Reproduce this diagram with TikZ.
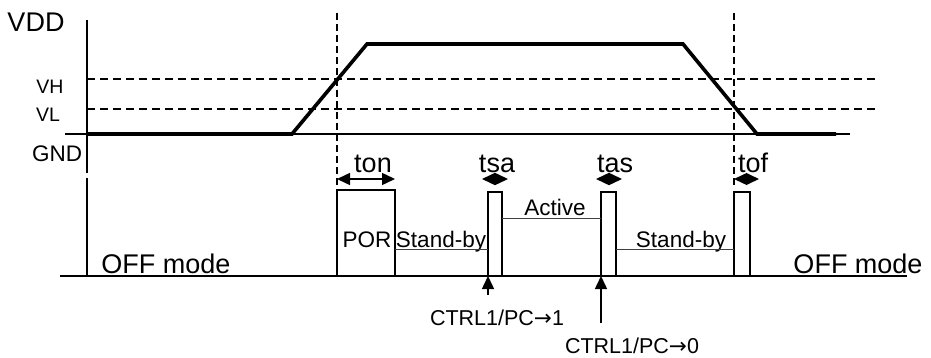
\documentclass[tikz,border=0pt]{standalone}
\usepackage{fontspec}
\setmainfont{Liberation Sans}
\newfontfamily\arrowfont{DejaVu Sans}
\usetikzlibrary{arrows.meta}
\tikzset{lb/.style  = {inner sep=0pt, anchor=base, font=\fontsize{22.5}{22.5}\selectfont},
         big/.style = {inner sep=0pt, anchor=base, font=\fontsize{27}{27}\selectfont},
         sm/.style  = {inner sep=0pt, anchor=base, font=\fontsize{19.5}{19.5}\selectfont},
         ctl/.style = {inner sep=0pt, anchor=base, font=\fontsize{21.5}{21.5}\selectfont},
         sig/.style = {line width=3.6pt},
         dl/.style  = {line width=1.2pt, dash pattern=on 8pt off 5pt},
         dv/.style  = {line width=1.2pt, dash pattern=on 7pt off 4pt},
         md/.style  = {line width=0.9pt, black!75},
         bx/.style  = {line width=1.4pt},
         ax/.style  = {line width=1.5pt}}
\newcommand{\toarrow}{{\arrowfont →}}

\begin{document}
\begin{tikzpicture}[x=1pt, y=-1pt, >={Triangle[length=13pt, width=12pt]}]
    \useasboundingbox (0,0) rectangle (931,358);
    \coordinate (ya) at (87,20);  \coordinate (yb) at (87,173);
    \coordinate (la) at (87,178); \coordinate (lb) at (87,276);
    \coordinate (g0) at (65,134); \coordinate (g1) at (850,134);
    \coordinate (h0) at (87,79);  \coordinate (h1) at (877,79);
    \coordinate (l0) at (87,109); \coordinate (l1) at (877,109);
    \coordinate (v0) at (87,134); \coordinate (v1) at (292,134); \coordinate (v2) at (367,44);
    \coordinate (v3) at (683,44); \coordinate (v4) at (757,134); \coordinate (v5) at (836,134);
    \coordinate (d0) at (337,13); \coordinate (d1) at (337,187);
    \coordinate (e0) at (734,13); \coordinate (e1) at (734,187);
    \coordinate (b0) at (60,276); \coordinate (b1) at (907,276);
    \coordinate (p0) at (337,190); \coordinate (p1) at (395,276);
    \coordinate (s0) at (488,192); \coordinate (s1) at (502,276);
    \coordinate (a0) at (601,192); \coordinate (a1) at (616,276);
    \coordinate (f0) at (734,192); \coordinate (f1) at (750,276);
    \coordinate (m0) at (395,249); \coordinate (m1) at (488,249);
    \coordinate (n0) at (502,218); \coordinate (n1) at (601,218);
    \coordinate (o0) at (616,249); \coordinate (o1) at (734,249);
    \coordinate (c1) at (488,295); \coordinate (c1t) at (488,276);
    \coordinate (c0) at (601,323); \coordinate (c0t) at (601,276);

    \node[big] (vdd) at (36,32) {VDD};
    \node[sm] (vh) at (50,94) {VH}; \node[sm] (vl) at (48,122) {VL};
    \node[lb] (gnd) at (57,162) {GND};
    \node[big] (ton) at (373,173) {ton}; \node[big] (tsa) at (497,173) {tsa};
    \node[big] (tas) at (615,173) {tas}; \node[big] (tof) at (753,173) {tof};
    \node[lb] (por) at (367,247) {POR};
    \node[lb] (sb1) at (441,247) {Stand-by}; \node[lb] (act) at (555,215) {Active};
    \node[lb] (sb2) at (681,247) {Stand-by};
    \node[big] (offl) at (166,273) {OFF mode}; \node[big] (offr) at (858,273) {OFF mode};
    \node[ctl] (ctl1) at (497,325) {CTRL1/PC\toarrow1}; \node[ctl] (ctl0) at (632,353) {CTRL1/PC\toarrow0};

    \draw[ax] (ya) -- (yb);
    \draw[ax] (la) -- (lb);
    \draw[line width=1.2pt] (g0) -- (g1);
    \draw[dl] (h0) -- (h1);
    \draw[dl] (l0) -- (l1);
    \draw[dv] (d0) -- (d1);
    \draw[dv] (e0) -- (e1);
    \draw[sig] (v0) -- (v1) -- (v2) -- (v3) -- (v4) -- (v5);
    \draw[bx] (p0) rectangle (p1);
    \draw[bx] (s0) rectangle (s1);
    \draw[bx] (a0) rectangle (a1);
    \draw[bx] (f0) rectangle (f1);
    \draw[md] (m0) -- (m1);
    \draw[md] (n0) -- (n1);
    \draw[md] (o0) -- (o1);
    \draw[line width=1.8pt] (b0) -- (b1);
    \draw[<->, ax] (337,179) -- (395,179);
    \draw[<->, ax] (482,179) -- (508,179);
    \draw[<->, ax] (596,179) -- (622,179);
    \draw[<->, ax] (734,179) -- (759,179);
    \draw[->, ax] (c1) -- (c1t);
    \draw[->, ax] (c0) -- (c0t);
\end{tikzpicture}
\end{document}
